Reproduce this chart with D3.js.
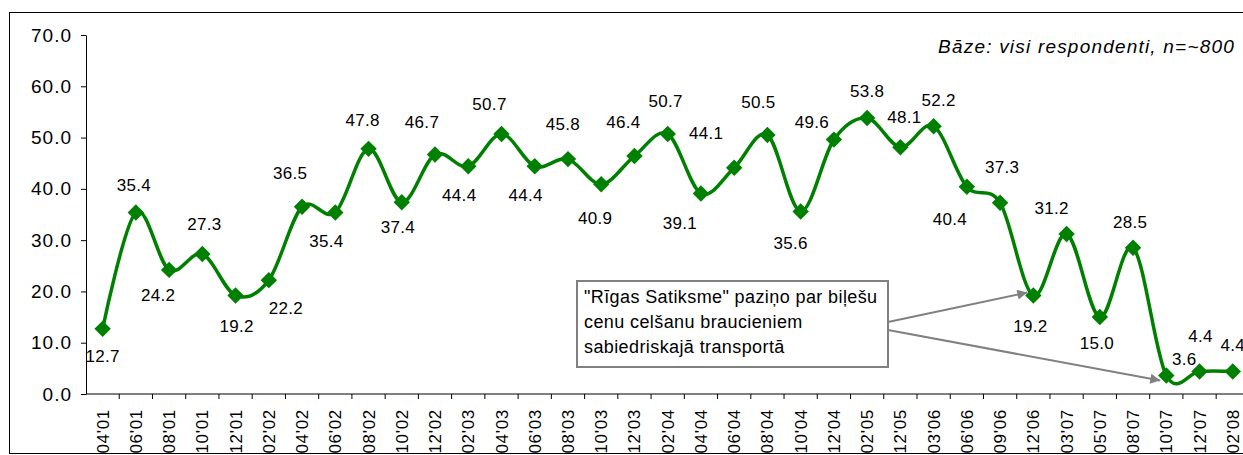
<!DOCTYPE html>
<html>
<head>
<meta charset="utf-8">
<script src="https://cdn.jsdelivr.net/npm/d3@7"></script>
<style>
    body { margin: 0; background: #fff; }
    svg { display: block; font-family: "Liberation Sans", Arial, sans-serif; }
</style>
</head>
<body>
<svg id="chart" width="1243" height="455"></svg>
<script>
// Survey waves (month'year)
const periods = ["04'01", "06'01", "08'01", "10'01", "12'01", "02'02", "04'02", "06'02", "08'02", "10'02",
    "12'02", "02'03", "04'03", "06'03", "08'03", "10'03", "12'03", "02'04", "04'04", "06'04",
    "08'04", "10'04", "12'04", "02'05", "12'05", "03'06", "06'06", "09'06", "12'06", "03'07",
    "05'07", "08'07", "10'07", "12'07", "02'08"];

// Share of respondents (%)
const values = [12.7, 35.4, 24.2, 27.3, 19.2, 22.2, 36.5, 35.4, 47.8, 37.4,
    46.7, 44.4, 50.7, 44.4, 45.8, 40.9, 46.4, 50.7, 39.1, 44.1,
    50.5, 35.6, 49.6, 53.8, 48.1, 52.2, 40.4, 37.3, 19.2, 31.2,
    15.0, 28.5, 3.6, 4.4, 4.4];

const yTicks = [0, 10, 20, 30, 40, 50, 60, 70];

const noteLines = ["\"Rīgas Satiksme\" paziņo par biļešu", "cenu celšanu braucieniem", "sabiedriskajā transportā"];
const baseText = "Bāze: visi respondenti, n=~800";
// the note points at these two waves
const notePeriods = ["12'06", "10'07"];

// manual label nudges (px), like the hand-placed labels in the original
const labelDx = [0, -2, -11, 2, 1, 17, -12, -9, -6, -4,
    -13, -9, -12, -9, -5, -6, -11, -2, -21, -28,
    -9, -10, -22, 0, 4, 5, -17, 2, -3, -15,
    -3, -3, 18, 1, 0];
const labelDy = [27, -27, 25, -30, 30, 28, -34, 29, -29, 25,
    -32, 29, -30, 29, -35, 34, -34, -33, 30, -35,
    -33, 32, -18, -27, -30, -26, 32, -36, 30, -26,
    26, -26, -17, -35, -26];

const svg = d3.select("#chart");

// outer frame (right edge runs off the page like the original)
svg.append("rect")
    .attr("x", 9.5).attr("y", 12.5)
    .attr("width", 1260).attr("height", 441)
    .attr("fill", "none").attr("stroke", "#000").attr("stroke-width", 1);

const x = d3.scaleBand()
    .domain(periods)
    .range([86, 86 + 33.24 * periods.length]);

const y = d3.scaleLinear()
    .domain([0, 70])
    .range([394, 35]);

// y axis
const yAxis = svg.append("g")
    .attr("transform", "translate(86,0)")
    .call(d3.axisLeft(y).tickValues(yTicks).tickFormat(d3.format(".1f")).tickSize(5).tickSizeOuter(0));
yAxis.select(".domain").attr("stroke", "#000");
yAxis.selectAll("text")
    .attr("font-size", 19)
    .attr("letter-spacing", 1)
    .attr("font-family", "Liberation Sans, Arial, sans-serif")
    .attr("fill", "#000")
    .attr("x", -14);

// x axis: ticks at category boundaries
const xAxis = svg.append("g")
    .attr("transform", "translate(0,394)");
xAxis.append("line")
    .attr("x1", x.range()[0]).attr("x2", x.range()[1])
    .attr("stroke", "#000");
xAxis.selectAll(".tick")
    .data(periods)
    .enter()
    .append("line")
        .attr("x1", d => x(d) + x.bandwidth()).attr("x2", d => x(d) + x.bandwidth())
        .attr("y1", 0).attr("y2", 5)
        .attr("stroke", "#000");
xAxis.selectAll(".lbl")
    .data(periods)
    .enter()
    .append("text")
        .attr("transform", d => "translate(" + (x(d) + x.bandwidth() / 2 + 6) + ",15) rotate(-90)")
        .attr("text-anchor", "end")
        .attr("font-size", 17)
        .attr("letter-spacing", 0.7)
        .attr("fill", "#000")
        .text(d => d);

// series line
const pts = periods.map((p, i) => [x(p) + x.bandwidth() / 2, y(values[i])]);

svg.append("path")
    .datum(pts)
    .attr("d", d3.line().curve(d3.curveCatmullRom.alpha(0)))
    .attr("fill", "none")
    .attr("stroke", "#008000")
    .attr("stroke-width", 3.5);

svg.append("g")
    .selectAll("path")
    .data(pts)
    .enter()
    .append("path")
        .attr("d", d3.symbol().type(d3.symbolSquare).size(135))
        .attr("transform", d => "translate(" + d[0] + "," + d[1] + ") rotate(45)")
        .attr("fill", "#008000");

// data labels
svg.append("g")
    .selectAll("text")
    .data(values)
    .enter()
    .append("text")
        .attr("x", (d, i) => pts[i][0] + labelDx[i])
        .attr("y", (d, i) => pts[i][1] + labelDy[i] + 6)
        .attr("text-anchor", "middle")
        .attr("font-size", 17)
        .attr("letter-spacing", 0.3)
        .attr("fill", "#000")
        .text(d => d3.format(".1f")(d));

// base note
svg.append("text")
    .attr("x", 1235).attr("y", 53)
    .attr("text-anchor", "end")
    .attr("font-size", 19)
    .attr("letter-spacing", 1.2)
    .attr("font-style", "italic")
    .attr("fill", "#000")
    .text(baseText);

// callout with arrows
const defs = svg.append("defs");
defs.append("marker")
    .attr("id", "arrow")
    .attr("viewBox", "0 0 10 10")
    .attr("refX", 10).attr("refY", 5)
    .attr("markerWidth", 6).attr("markerHeight", 5)
    .attr("orient", "auto")
    .append("path")
        .attr("d", "M0,0 L10,5 L0,10 Z")
        .attr("fill", "#808080");

const boxX = 577, boxY = 281, boxW = 311, boxH = 86;
const anchors = [[boxX + boxW, 322], [boxX + boxW, 330]];

notePeriods.forEach(function(p, k) {
    const i = periods.indexOf(p);
    svg.append("line")
        .attr("x1", anchors[k][0]).attr("y1", anchors[k][1])
        .attr("x2", pts[i][0] - 6).attr("y2", pts[i][1] + (k === 0 ? -3 : 5))
        .attr("stroke", "#808080")
        .attr("stroke-width", 2)
        .attr("marker-end", "url(#arrow)");
});

svg.append("rect")
    .attr("x", boxX).attr("y", boxY)
    .attr("width", boxW).attr("height", boxH)
    .attr("fill", "#fff")
    .attr("stroke", "#808080")
    .attr("stroke-width", 2);

svg.append("g")
    .selectAll("text")
    .data(noteLines)
    .enter()
    .append("text")
        .attr("x", boxX + 7)
        .attr("y", (d, i) => boxY + 22 + i * 25)
        .attr("font-size", 18)
        .attr("letter-spacing", 0.4)
        .attr("fill", "#000")
        .text(d => d);
</script>
</body>
</html>
